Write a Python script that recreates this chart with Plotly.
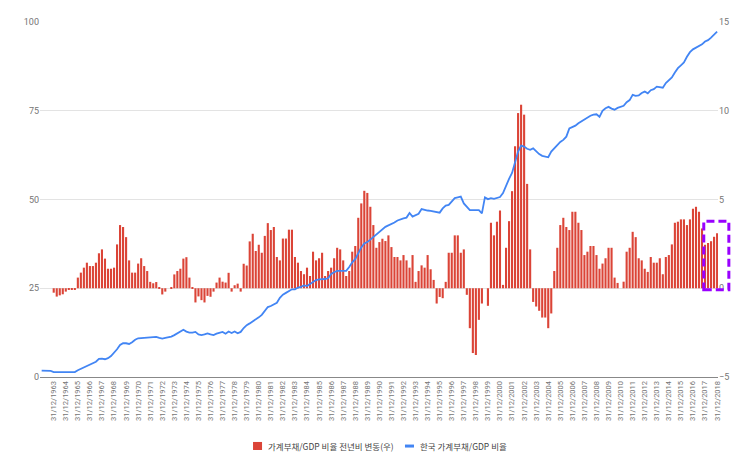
import plotly.graph_objects as go

# Quarter-end categories: 31/12/1962 .. 31/12/2018
quarters = []
for yr in range(1962, 2019):
    for dm in ["31/03", "30/06", "30/09", "31/12"]:
        if yr == 1962 and dm != "31/12":
            continue
        quarters.append(f"{dm}/{yr}")

tick_years = list(range(1963, 2019))
tick_vals = [f"31/12/{y}" for y in tick_years]
tick_text = [f"31/12/{y}" for y in tick_years]

series_names = ["가계부채/GDP 비율 전년비 변동(우)", "한국 가계부채/GDP 비율"]
series_colors = ["#db4437", "#4285f4"]

# 한국 가계부채/GDP 비율 (left axis)
ratio = [
    1.8, 1.8, 1.8, 1.7,
    1.4, 1.4, 1.4, 1.3,
    1.2, 1.2, 1.3, 1.4,
    1.9, 2.3, 2.7, 3.0,
    3.4, 3.8, 4.3, 5.1,
    5.2, 5.0, 5.3, 5.9,
    6.8, 7.8, 9.0, 9.5,
    9.5, 9.3, 9.8, 10.5,
    10.9, 11.0, 11.1, 11.1,
    11.2, 11.3, 11.3, 11.0,
    10.8, 11.0, 11.1, 11.4,
    11.8, 12.3, 12.8, 13.3,
    12.8, 12.5, 12.5, 12.7,
    12.0, 11.8, 12.0, 12.3,
    12.0, 11.8, 12.2, 12.5,
    12.7, 12.2, 12.8, 12.4,
    12.8, 12.3, 12.7, 13.8,
    14.6, 15.1, 15.6, 16.3,
    16.8, 17.5, 18.5, 19.7,
    20.0, 20.5, 20.9, 22.3,
    23.2, 23.7, 24.3, 24.7,
    24.7, 25.2, 25.4, 25.8,
    25.6, 26.2, 26.8, 27.3,
    27.5, 27.5, 27.6, 27.8,
    29.0, 29.5, 29.9, 29.9,
    29.9, 29.9, 31.0, 32.3,
    33.2, 34.8, 36.5, 37.6,
    38.0, 38.7, 39.4, 40.3,
    40.8, 41.5, 42.3, 42.7,
    43.0, 43.5, 44.1, 44.5,
    44.7, 44.9, 46.2, 45.2,
    45.6, 46.0, 47.3, 47.0,
    46.9, 46.8, 46.7, 46.6,
    46.3, 47.5, 48.3, 48.5,
    49.4, 50.4, 50.6, 50.8,
    48.9, 47.8, 47.0, 47.0,
    47.0, 47.0, 46.1, 50.6,
    50.1, 50.4, 50.2, 50.4,
    50.7, 51.8, 54.0, 55.8,
    57.5, 60.5, 63.5, 65.2,
    64.9, 64.3, 64.0, 64.4,
    63.5, 62.8, 62.3, 62.0,
    61.9, 63.5, 64.5, 65.2,
    66.2, 66.8, 67.7, 70.0,
    70.3, 70.8, 71.5, 72.0,
    72.6, 73.2, 73.6, 73.9,
    74.0, 73.3, 75.0, 75.7,
    76.1, 75.6, 75.3, 75.8,
    76.1, 76.4, 77.4, 78.0,
    79.5, 79.2, 79.3, 80.0,
    80.4, 79.9, 80.8, 81.1,
    81.8, 81.6, 81.5, 82.8,
    83.6, 84.4, 85.8, 87.0,
    87.8, 88.6, 90.2, 91.5,
    92.3, 92.8, 93.3, 93.7,
    94.5, 94.9, 95.6, 96.5,
    97.3,
]

# 가계부채/GDP 비율 전년비 변동 (right axis), from 31/12/1963
yoy_change = [
    -0.25, -0.47, -0.4, -0.34,
    -0.19, -0.06, -0.06, -0.06,
    0.6, 0.88, 1.16, 1.44,
    1.25, 1.25, 1.44, 1.97,
    2.19, 1.67, 1.1, 1.1,
    1.16, 2.47, 3.56, 3.45,
    2.88, 1.57, 0.88, 0.88,
    1.39, 1.69, 1.25, 0.97,
    0.36, 0.28, 0.35, 0.07,
    -0.35, -0.19, 0.0, 0.07,
    0.78, 0.97, 1.1, 1.67,
    1.75, 0.6, 0.07, -0.8,
    -0.46, -0.67, -0.8, -0.43,
    -0.48, -0.19, 0.32, 0.6,
    0.37, 0.32, 0.87, -0.19,
    0.17, 0.26, -0.19, 1.38,
    1.28, 2.64, 3.07, 2.1,
    2.45, 2.0, 2.95, 3.67,
    3.28, 3.45, 1.76, 1.57,
    2.8, 2.8, 3.3, 3.3,
    1.76, 1.44, 0.97, 0.79,
    1.16, 0.69, 2.06, 1.57,
    1.69, 2.0, 0.69, 0.97,
    1.16, 1.69, 2.28, 2.19,
    1.57, 0.69, 0.97, 2.06,
    2.38, 3.97, 4.78, 5.49,
    5.37, 4.59, 3.56, 2.28,
    2.6, 2.79, 2.66, 2.98,
    2.32, 1.76, 1.76, 1.57,
    1.87, 1.57, 1.16, 1.87,
    0.36, 0.97, 1.29, 1.16,
    1.87, 1.07, 0.47, -0.86,
    -0.49, -0.56, 0.36, 2.0,
    2.0, 2.98, 2.98, 2.0,
    2.19, -0.37, -2.25, -3.65,
    -3.76, -1.78, -0.86, 0.0,
    -0.99, 3.69, 2.98, 3.75,
    4.38, 0.19, 2.28, 3.78,
    5.47, 8.0, 9.87, 10.34,
    9.78, 5.88, 2.19, -0.77,
    -1.03, -1.27, -1.65, -1.65,
    -2.25, -1.42, 0.97, 2.28,
    3.56, 3.97, 3.45, 3.28,
    4.31, 4.31, 3.69, 3.28,
    1.87, 2.06, 2.38, 2.38,
    1.87, 1.1, 1.39, 1.69,
    2.28, 2.28, 0.6, 0.3,
    0.0, 0.37, 2.06, 2.28,
    3.18, 2.88, 1.69, 1.57,
    1.1, 0.92, 1.76, 1.44,
    1.44, 1.69, 0.79, 1.76,
    1.87, 2.47, 3.69, 3.75,
    3.88, 3.88, 3.56, 3.88,
    4.48, 4.59, 4.31, 3.37,
    2.45, 2.55, 2.65, 2.9,
    3.1,
]

bar_x = quarters[len(quarters) - len(yoy_change):]

FONT = "Roboto, 'Noto Sans CJK KR', Arial, sans-serif"
KFONT = "'Noto Sans CJK KR', Roboto, sans-serif"

fig = go.Figure()
fig.add_trace(go.Bar(
    x=bar_x, y=yoy_change, name=series_names[0],
    marker=dict(color=series_colors[0], line=dict(width=0)),
    yaxis="y", showlegend=False,
))
fig.add_trace(go.Scatter(
    x=quarters, y=ratio, name=series_names[1],
    mode="lines", line=dict(color=series_colors[1], width=1.8),
    yaxis="y2", showlegend=False,
))

# highlight box around the latest bars
fig.add_shape(
    type="rect", xref="paper", yref="paper",
    x0=0.979, x1=1.016, y0=0.246, y1=0.439,
    line=dict(color="#9900ff", width=3, dash="8px,4px"),
    fillcolor="rgba(0,0,0,0)",
)

# legend (drawn manually to match the compact original)
fig.add_shape(type="rect", xref="paper", yref="paper",
              x0=0.3142, x1=0.3275, y0=-0.2056, y1=-0.1830,
              line=dict(width=0), fillcolor=series_colors[0])
fig.add_shape(type="line", xref="paper", yref="paper",
              x0=0.5383, x1=0.5516, y0=-0.1945, y1=-0.1945,
              line=dict(width=3, color=series_colors[1]))
fig.add_annotation(xref="paper", yref="paper", x=0.3335, y=-0.1945,
                   xanchor="left", yanchor="middle", showarrow=False,
                   text=series_names[0], font=dict(family=KFONT, size=8.5, color="#444444"))
fig.add_annotation(xref="paper", yref="paper", x=0.5575, y=-0.1945,
                   xanchor="left", yanchor="middle", showarrow=False,
                   text=series_names[1], font=dict(family=KFONT, size=8.5, color="#444444"))

fig.update_layout(
    width=743, height=454,
    margin=dict(l=40, r=25, t=22, b=77, autoexpand=False),
    paper_bgcolor="white", plot_bgcolor="white",
    font=dict(family=FONT, size=9, color="#757575"),
    bargap=0.3,
    showlegend=False,
    xaxis=dict(
        type="category", categoryorder="array", categoryarray=quarters,
        range=[-0.55, 224.3],
        tickmode="array", tickvals=tick_vals, ticktext=tick_text,
        tickangle=-90, tickfont=dict(size=7.5, color="#757575"),
        showgrid=False, showline=True, linecolor="#888888", linewidth=1,
        ticks="", automargin=False,
    ),
    yaxis=dict(
        side="right", range=[-5, 15], tickvals=[-5, 0, 5, 10, 15],
        showgrid=True, gridcolor="#e3e3e3", zeroline=False,
        tickfont=dict(size=9, color="#757575"), ticks="", automargin=False,
    ),
    yaxis2=dict(
        overlaying="y", side="left", range=[0, 100],
        tickvals=[0, 25, 50, 75, 100],
        showgrid=False, zeroline=False,
        tickfont=dict(size=9, color="#757575"), ticks="", automargin=False,
    ),
)

fig.write_html("out.html")
